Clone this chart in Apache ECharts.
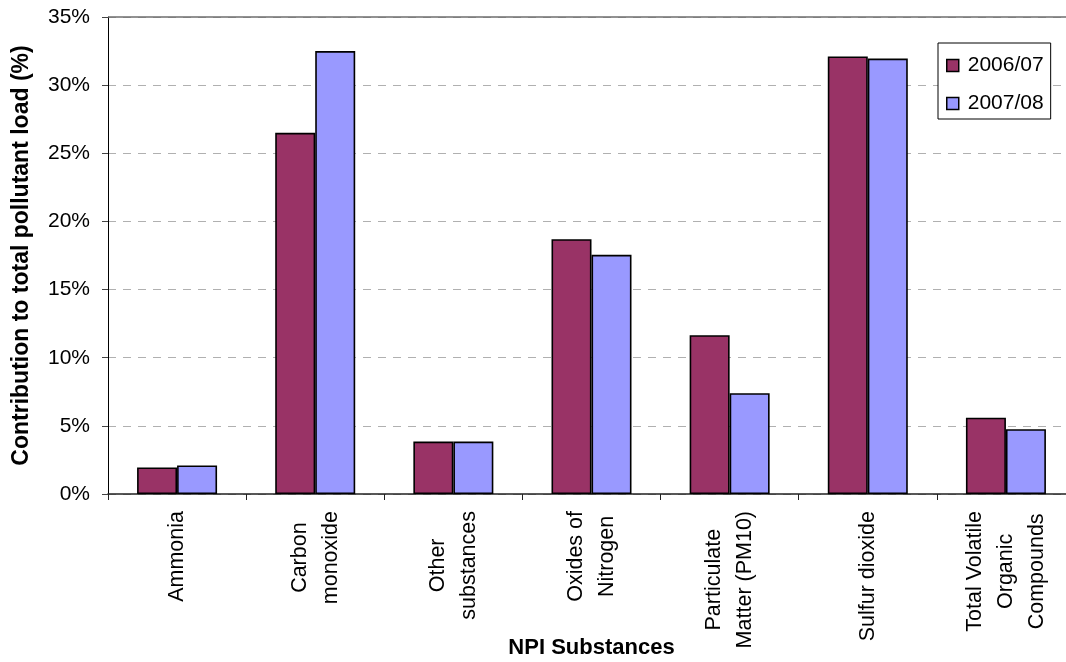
<!DOCTYPE html>
<html>
<head>
<meta charset="utf-8">
<style>
  html, body { margin: 0; padding: 0; background: #fff; }
  #chart { width: 1066px; height: 662px; }
</style>
<script src="https://cdn.jsdelivr.net/npm/echarts@6/dist/echarts.min.js"></script>
</head>
<body>
<div id="chart"></div>
<script>
// NPI substances and their share of the total pollutant load (%)
const categories = [
  'Ammonia',
  'Carbon\nmonoxide',
  'Other\nsubstances',
  'Oxides of\nNitrogen',
  'Particulate\nMatter (PM10)',
  'Sulfur dioxide',
  'Total Volatile\nOrganic\nCompounds'
];
const seriesNames = ['2006/07', '2007/08'];
const values0607 = [1.95, 26.5, 3.85, 18.7, 11.65, 32.1, 5.6];
const values0708 = [2.1, 32.5, 3.85, 17.55, 7.4, 31.95, 4.75];
const yTicks = { min: 0, max: 35, interval: 5 };

const FONT = '"Liberation Sans", Arial, sans-serif';
const COLORS = ['#993366', '#9999FF'];

const chart = echarts.init(document.getElementById('chart'));

const barSeries = [values0607, values0708].map((vals, i) => ({
  name: seriesNames[i],
  type: 'bar',
  data: vals,
  barWidth: 40,
  barGap: '0%',
  itemStyle: { color: COLORS[i], borderColor: '#000', borderWidth: 1.6 },
  emphasis: { disabled: true }
}));

// darker line along the top edge of the plot
barSeries[0].markLine = {
  silent: true,
  symbol: 'none',
  label: { show: false },
  lineStyle: { color: '#6e6e6e', type: 'solid', width: 1.5 },
  data: [{ yAxis: yTicks.max }]
};

chart.setOption({
  animation: false,
  backgroundColor: '#fff',
  textStyle: { fontFamily: FONT, color: '#000' },
  grid: {
    left: 108, top: 17, width: 967, height: 477,
    containLabel: false,
    outerBoundsMode: 'none'
  },
  legend: {
    orient: 'vertical',
    left: 938,
    top: 43,
    padding: [12, 7, 5, 8],
    itemGap: 17,
    itemWidth: 12,
    itemHeight: 12,
    icon: 'rect',
    borderColor: '#000',
    borderWidth: 1,
    backgroundColor: '#fff',
    selectedMode: false,
    itemStyle: { borderColor: '#000', borderWidth: 1.5 },
    textStyle: { fontFamily: FONT, fontSize: 21, color: '#000', padding: [0, 0, 0, 4] },
    data: seriesNames
  },
  xAxis: {
    type: 'category',
    data: categories,
    name: 'NPI Substances',
    nameLocation: 'middle',
    nameGap: 143,
    nameMoveOverlap: false,
    nameTextStyle: { fontFamily: FONT, fontSize: 22, fontWeight: 'bold', color: '#000' },
    axisLine: { show: true, lineStyle: { color: '#222', width: 1.5 } },
    axisTick: { show: true, length: 6, lineStyle: { color: '#222', width: 1 } },
    axisLabel: {
      rotate: 90,
      margin: 17,
      interval: 0,
      fontFamily: FONT,
      fontSize: 21.5,
      color: '#000',
      formatter: (v) => v.split('\n').map((l) => '{c|' + l + '}').join('\n'),
      rich: {
        c: { align: 'center', fontFamily: FONT, fontSize: 21.5, lineHeight: 31, color: '#000' }
      }
    },
    splitLine: { show: false }
  },
  yAxis: {
    type: 'value',
    min: yTicks.min,
    max: yTicks.max,
    interval: yTicks.interval,
    name: 'Contribution to total pollutant load (%)',
    nameLocation: 'middle',
    nameGap: 75,
    nameMoveOverlap: false,
    nameTextStyle: { fontFamily: FONT, fontSize: 23, fontWeight: 'bold', color: '#000' },
    axisLine: { show: true, lineStyle: { color: '#000', width: 1 } },
    axisTick: { show: true, length: 6, lineStyle: { color: '#444', width: 1 } },
    axisLabel: {
      margin: 18,
      fontFamily: FONT,
      fontSize: 21,
      color: '#000',
      formatter: '{value}%'
    },
    splitLine: { show: true, lineStyle: { color: '#b0b0b0', type: [8, 7], width: 1.2 } }
  },
  series: barSeries
});
</script>
</body>
</html>
